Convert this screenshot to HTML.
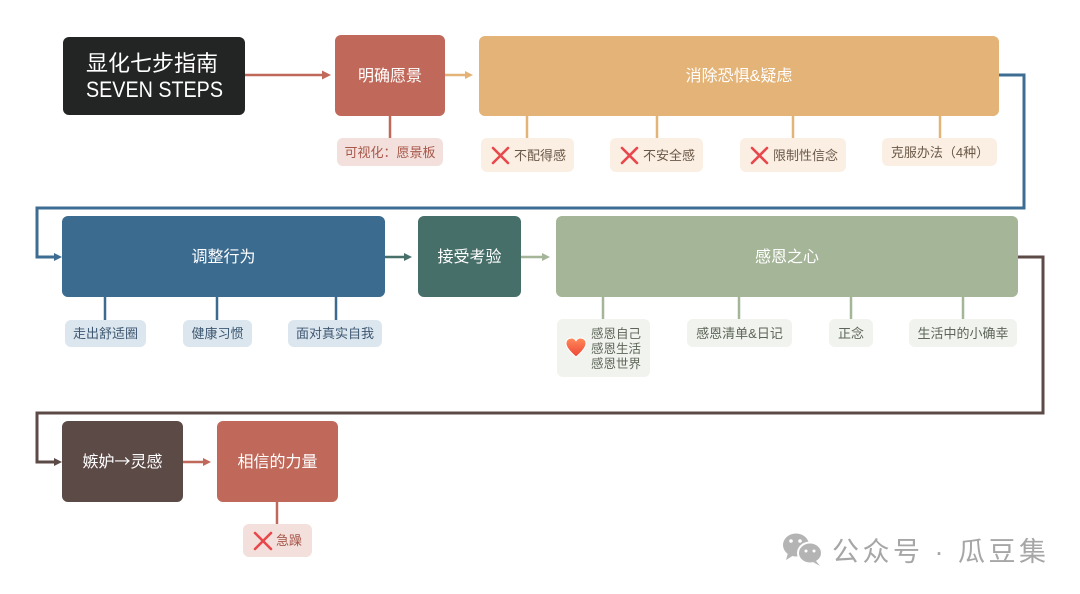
<!DOCTYPE html>
<html><head><meta charset="utf-8"><style>
html,body{margin:0;padding:0;background:#fff;}
svg{display:block;font-family:"Liberation Sans","Noto Sans CJK SC",sans-serif;}
</style></head><body>
<svg width="1080" height="594" viewBox="0 0 1080 594" xmlns="http://www.w3.org/2000/svg">
<rect width="1080" height="594" fill="#fff"/>

<!-- Title -->
<rect x="63" y="37" width="182" height="78" rx="6" fill="#232524"/>
<text x="86" y="71" font-size="22" fill="#fff">显化七步指南</text>
<text x="86" y="97" font-size="22" fill="#fff" textLength="137" lengthAdjust="spacingAndGlyphs">SEVEN STEPS</text>

<!-- arrow title -> 明确愿景 -->
<line x1="245" y1="75" x2="324" y2="75" stroke="#c0695a" stroke-width="2.5"/>
<polygon points="322,70.5 331,75 322,79.5" fill="#c0695a"/>

<!-- 明确愿景 -->
<rect x="335" y="35" width="110" height="81" rx="6" fill="#c0695a"/>
<text x="390" y="81" font-size="16" fill="#fff" text-anchor="middle">明确愿景</text>
<line x1="390" y1="116" x2="390" y2="138" stroke="#c0695a" stroke-width="2.5"/>
<rect x="337" y="138" width="106" height="28" rx="6" fill="#f3e0dc"/>
<text x="390" y="157" font-size="13" fill="#a8584b" text-anchor="middle">可视化：愿景板</text>

<!-- arrow -> 消除 -->
<line x1="445" y1="75" x2="467" y2="75" stroke="#e3b377" stroke-width="2.5"/>
<polygon points="465,71 473,75 465,79" fill="#e3b377"/>

<!-- 消除恐惧&疑虑 -->
<rect x="479" y="36" width="520" height="80" rx="6" fill="#e3b377"/>
<text x="739" y="81" font-size="16" fill="#fff" text-anchor="middle">消除恐惧&amp;疑虑</text>
<g stroke="#e3b377" stroke-width="2.5">
<line x1="527" y1="116" x2="527" y2="138"/>
<line x1="657" y1="116" x2="657" y2="138"/>
<line x1="793" y1="116" x2="793" y2="138"/>
<line x1="940" y1="116" x2="940" y2="138"/>
</g>
<g fill="#fbefe3">
<rect x="481" y="138" width="93" height="34" rx="6"/>
<rect x="610" y="138" width="93" height="34" rx="6"/>
<rect x="740" y="138" width="106" height="34" rx="6"/>
<rect x="882" y="138" width="115" height="28" rx="6"/>
</g>
<g stroke="#e8474c" stroke-width="2.6" stroke-linecap="round">
<line x1="493" y1="148" x2="508" y2="163"/><line x1="508" y1="148" x2="493" y2="163"/>
<line x1="622" y1="148" x2="637" y2="163"/><line x1="637" y1="148" x2="622" y2="163"/>
<line x1="752" y1="148" x2="767" y2="163"/><line x1="767" y1="148" x2="752" y2="163"/>
</g>
<g font-size="13" fill="#6a5848">
<text x="514" y="160">不配得感</text>
<text x="643" y="160">不安全感</text>
<text x="773" y="160">限制性信念</text>
<text x="940" y="157" text-anchor="middle">克服办法（4种）</text>
</g>

<!-- blue connector -->
<polyline points="999,75 1024,75 1024,208 37,208 37,257 55,257" fill="none" stroke="#3d6d92" stroke-width="3"/>
<polygon points="54,253 62,257 54,261" fill="#3d6d92"/>

<!-- 调整行为 -->
<rect x="62" y="216" width="323" height="81" rx="6" fill="#3b6b8f"/>
<text x="223.5" y="262" font-size="16" fill="#fff" text-anchor="middle">调整行为</text>
<g stroke="#3b6b8f" stroke-width="2.5">
<line x1="105" y1="297" x2="105" y2="320"/>
<line x1="217" y1="297" x2="217" y2="320"/>
<line x1="336" y1="297" x2="336" y2="320"/>
</g>
<g fill="#dce6ef">
<rect x="65" y="320" width="81" height="27" rx="6"/>
<rect x="183" y="320" width="69" height="27" rx="6"/>
<rect x="288" y="320" width="94" height="27" rx="6"/>
</g>
<g font-size="13" fill="#3e5871" text-anchor="middle">
<text x="105.5" y="338">走出舒适圈</text>
<text x="217.5" y="338">健康习惯</text>
<text x="335" y="338">面对真实自我</text>
</g>

<!-- arrow -> 接受考验 -->
<line x1="385" y1="257" x2="406" y2="257" stroke="#47706a" stroke-width="2.5"/>
<polygon points="404,253 412,257 404,261" fill="#47706a"/>
<rect x="418" y="216" width="103" height="81" rx="6" fill="#476f69"/>
<text x="469.5" y="262" font-size="16" fill="#fff" text-anchor="middle">接受考验</text>

<!-- arrow -> 感恩之心 -->
<line x1="521" y1="257" x2="544" y2="257" stroke="#a5b598" stroke-width="2.5"/>
<polygon points="542,253 550,257 542,261" fill="#a5b598"/>
<rect x="556" y="216" width="462" height="81" rx="6" fill="#a5b598"/>
<text x="787" y="262" font-size="16" fill="#fff" text-anchor="middle">感恩之心</text>
<g stroke="#a5b598" stroke-width="2.5">
<line x1="603" y1="297" x2="603" y2="319"/>
<line x1="739" y1="297" x2="739" y2="319"/>
<line x1="851" y1="297" x2="851" y2="319"/>
<line x1="963" y1="297" x2="963" y2="319"/>
</g>
<g fill="#f1f3ee">
<rect x="557" y="319" width="93" height="58" rx="6"/>
<rect x="687" y="319" width="105" height="28" rx="6"/>
<rect x="829" y="319" width="44" height="28" rx="6"/>
<rect x="909" y="319" width="108" height="28" rx="6"/>
</g>
<defs>
<linearGradient id="hg" x1="0" y1="0" x2="0" y2="1">
<stop offset="0" stop-color="#ff8a5a"/><stop offset="1" stop-color="#ee4536"/>
</linearGradient>
</defs>
<path d="M576,357 C569,351 566,347 566,343.5 C566,340 568.5,338 571.5,338 C573.5,338 575,339 576,340.8 C577,339 578.5,338 580.5,338 C583.5,338 586,340 586,343.5 C586,347 583,351 576,357 Z" fill="url(#hg)" stroke="#fff" stroke-width="1"/>
<g font-size="12.5" fill="#5d6558">
<text x="591" y="338">感恩自己</text>
<text x="591" y="353">感恩生活</text>
<text x="591" y="368">感恩世界</text>
</g>
<g font-size="13" fill="#5d6558" text-anchor="middle">
<text x="739.5" y="338">感恩清单&amp;日记</text>
<text x="851" y="338">正念</text>
<text x="963" y="338">生活中的小确幸</text>
</g>

<!-- brown connector -->
<polyline points="1018,257 1043,257 1043,413 37,413 37,462 55,462" fill="none" stroke="#5c4a47" stroke-width="3"/>
<polygon points="54,458 62,462 54,466" fill="#5c4a47"/>

<!-- 嫉妒→灵感 -->
<rect x="62" y="421" width="121" height="81" rx="6" fill="#5c4a47"/>
<text x="122.5" y="467" font-size="16" fill="#fff" text-anchor="middle" font-family="'Noto Sans CJK SC',sans-serif">嫉妒→灵感</text>

<!-- arrow -> 相信的力量 -->
<line x1="183" y1="462" x2="205" y2="462" stroke="#c0695a" stroke-width="2.5"/>
<polygon points="203,458 211,462 203,466" fill="#c0695a"/>
<rect x="217" y="421" width="121" height="81" rx="6" fill="#c0695a"/>
<text x="277.5" y="467" font-size="16" fill="#fff" text-anchor="middle">相信的力量</text>
<line x1="277" y1="502" x2="277" y2="524" stroke="#c0695a" stroke-width="2.5"/>
<rect x="243" y="524" width="69" height="33" rx="6" fill="#f3e0dc"/>
<g stroke="#e8474c" stroke-width="2.6" stroke-linecap="round">
<line x1="255" y1="533" x2="271" y2="549"/><line x1="271" y1="533" x2="255" y2="549"/>
</g>
<text x="276" y="545" font-size="13" fill="#a8584b">急躁</text>

<!-- watermark -->
<g fill="#b4b4b4">
<ellipse cx="796" cy="545" rx="13" ry="11.5"/>
<polygon points="788,553 786,560 794,555"/>
<ellipse cx="810" cy="553" rx="12" ry="10.5" stroke="#fff" stroke-width="2"/>
<polygon points="816,561 820,566 813,562"/>
</g>
<g fill="#fff">
<circle cx="791" cy="541" r="1.8"/><circle cx="800" cy="541" r="1.8"/>
<circle cx="806" cy="551" r="1.5"/><circle cx="814" cy="551" r="1.5"/>
</g>
<text x="832" y="561" font-size="27" fill="#a6a6a6" letter-spacing="3.5">公众号 · 瓜豆集</text>
</svg>
</body></html>
